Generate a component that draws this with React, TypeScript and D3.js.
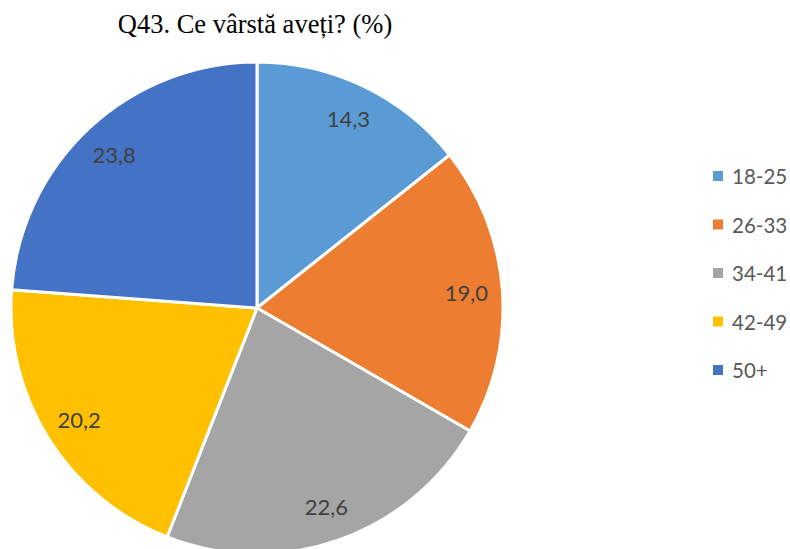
import React from "react";
import * as d3 from "d3";

const categories = ["18-25", "26-33", "34-41", "42-49", "50+"];
const values = [14.3, 19.0, 22.6, 20.2, 23.8];
const colors = ["#5B9BD5", "#ED7D31", "#A5A5A5", "#FFC000", "#4472C4"];
const title = "Q43. Ce vârstă aveți? (%)";

export default function App() {
  const W = 790, H = 549;
  const cx = 257, cy = 308, r = 246;
  const pie = d3.pie<number>().sort(null).value((d) => d);
  const arcs = pie(values);
  const arc = d3.arc<d3.PieArcDatum<number>>().innerRadius(0).outerRadius(r);
  const labelArc = d3.arc<d3.PieArcDatum<number>>().innerRadius(210).outerRadius(210);
  const fmt = (v: number) => v.toFixed(1).replace(".", ",");
  const legendY = d3.scalePoint<string>().domain(categories).range([176, 370]);
  return (
    <svg width={W} height={H} style={{ position: "absolute", left: 0, top: 0, background: "#fff" }}>
      <text x={255} y={33} textAnchor="middle" fontFamily="Liberation Serif, Times New Roman, serif" fontSize={26.5} fill="#000">
        {title}
      </text>
      <g transform={`translate(${cx},${cy})`}>
        {arcs.map((a, i) => (
          <path key={i} d={arc(a) || ""} fill={colors[i]} stroke="#fff" strokeWidth={3} strokeLinejoin="round" />
        ))}
        {arcs.map((a, i) => {
          const [x, y] = labelArc.centroid(a);
          return (
            <text key={i} x={x} y={y} textAnchor="middle" dominantBaseline="central" fontFamily="Lato, Open Sans, sans-serif" fontSize={22} fill="#404040">
              {fmt(values[i])}
            </text>
          );
        })}
      </g>
      {categories.map((c, i) => (
        <g key={c} transform={`translate(713,${legendY(c)})`}>
          <rect x={0} y={-5} width={10} height={10} fill={colors[i]} />
          <text x={19} y={0} dominantBaseline="central" fontFamily="Lato, Open Sans, sans-serif" fontSize={20.5} fill="#595959">
            {c}
          </text>
        </g>
      ))}
    </svg>
  );
}
